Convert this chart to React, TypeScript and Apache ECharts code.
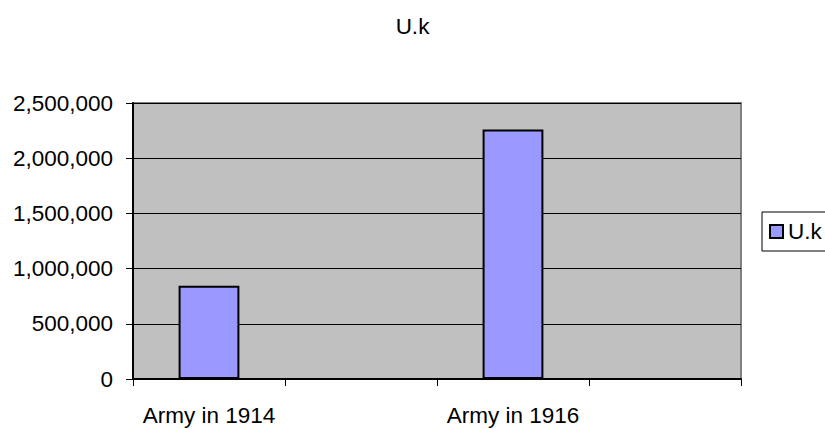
import React, { useEffect, useRef } from "react";
import * as echarts from "echarts";

const categories = ["Army in 1914", "", "Army in 1916", ""];
const ukValues: (number | null)[] = [845000, null, 2260000, null];
const seriesName = "U.k";
const titleText = "U.k";
const yMin = 0;
const yMax = 2500000;
const yStep = 500000;

const FONT = "'Liberation Sans', Arial, sans-serif";
const FS = 22.5;

export default function App() {
  const ref = useRef<HTMLDivElement>(null);
  useEffect(() => {
    if (!ref.current) return;
    const chart = echarts.init(ref.current, null, { renderer: "svg" });
    chart.setOption({
      animation: false,
      backgroundColor: "#ffffff",
      textStyle: { fontFamily: FONT, color: "#000" },
      title: {
        text: titleText,
        left: "center",
        top: 15,
        padding: 0,
        textStyle: { fontFamily: FONT, fontSize: FS, fontWeight: "normal", color: "#000" },
      },
      legend: {
        data: [seriesName],
        left: 762,
        top: 212,
        orient: "vertical",
        padding: [8, 16, 8, 7],
        borderColor: "#000",
        borderWidth: 1,
        backgroundColor: "#fff",
        icon: "rect",
        itemWidth: 13,
        itemHeight: 13,
        itemStyle: { borderColor: "#000", borderWidth: 2 },
        textStyle: { fontFamily: FONT, fontSize: FS, color: "#000", padding: [0, 0, 0, 0] },
      },
      grid: {
        left: 133,
        right: 84,
        top: 103,
        bottom: 51,
        show: true,
        backgroundColor: "#C0C0C0",
        borderColor: "#808080",
        borderWidth: 2,
      },
      xAxis: {
        type: "category",
        data: categories,
        boundaryGap: true,
        axisLine: { show: true, lineStyle: { color: "#000", width: 2 } },
        axisTick: { show: true, length: 7, interval: 0, alignWithLabel: false, lineStyle: { color: "#000", width: 1 } },
        axisLabel: { interval: 0, margin: 25, fontFamily: FONT, fontSize: FS, color: "#000" },
        splitLine: { show: false },
      },
      yAxis: {
        type: "value",
        min: yMin,
        max: yMax,
        interval: yStep,
        axisLine: { show: true, lineStyle: { color: "#000", width: 2 } },
        axisTick: { show: true, length: 7, lineStyle: { color: "#000", width: 1 } },
        axisLabel: {
          margin: 20,
          fontFamily: FONT,
          fontSize: FS,
          color: "#000",
          formatter: (v: number) => v.toLocaleString("en-US"),
        },
        splitLine: { show: true, lineStyle: { color: "#000", width: 1 } },
      },
      series: [
        {
          name: seriesName,
          type: "bar",
          data: ukValues,
          barWidth: "40%",
          itemStyle: { color: "#9999FF", borderColor: "#000", borderWidth: 2 },
        },
      ],
    });
    return () => chart.dispose();
  }, []);
  return (
    <div
      ref={ref}
      style={{ position: "absolute", left: 0, top: 0, width: 825, height: 430 }}
    />
  );
}
